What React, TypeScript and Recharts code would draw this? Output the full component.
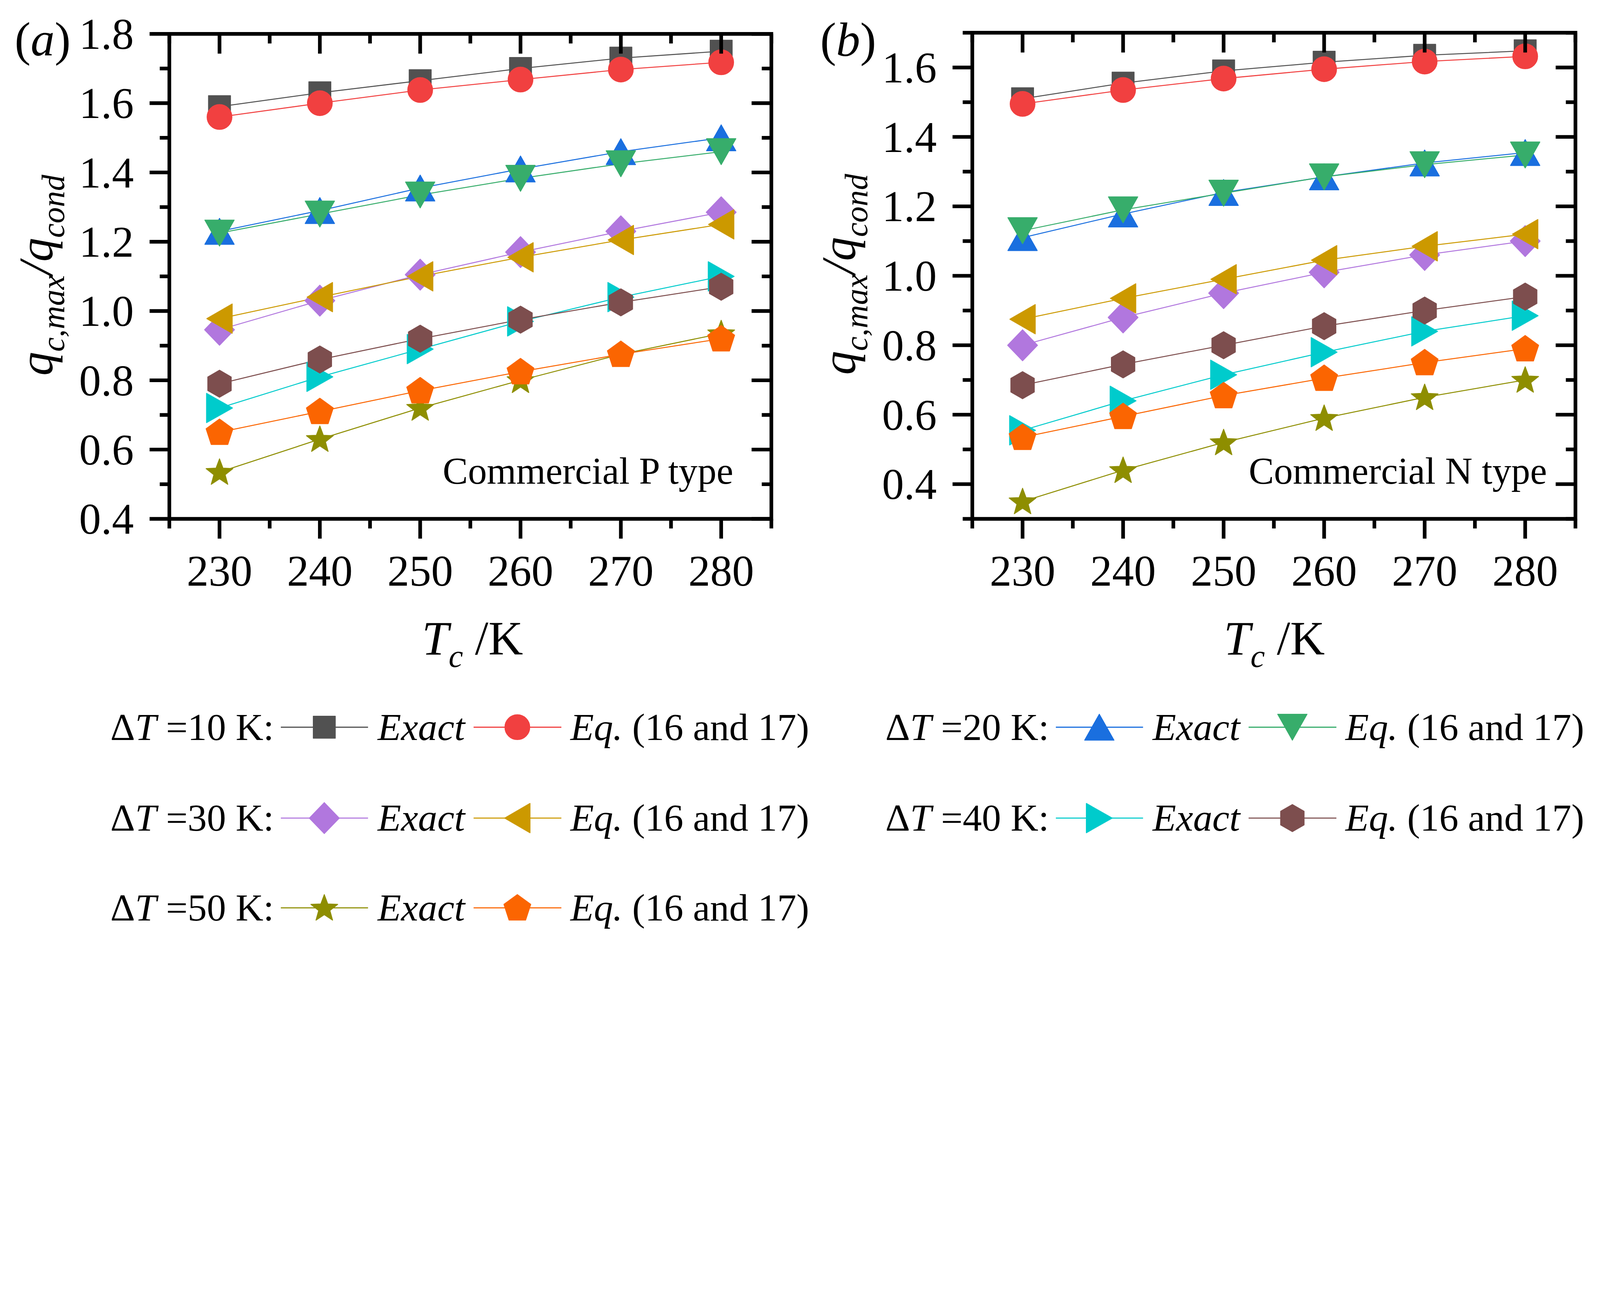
import React from 'react';
import { LineChart, Line, XAxis, YAxis, ReferenceArea } from 'recharts';

const FONT = "'Liberation Serif', 'Times New Roman', Times, serif";

// x categories (Tc / K) and axis ticks
const TC = [230, 240, 250, 260, 270, 280];
const X_TICKS = [225, 230, 235, 240, 245, 250, 255, 260, 265, 270, 275, 280, 285];
const Y_TICKS_P = [0.4, 0.5, 0.6, 0.7, 0.8, 0.9, 1.0, 1.1, 1.2, 1.3, 1.4, 1.5, 1.6, 1.7, 1.8];
const Y_TICKS_N = [0.3, 0.4, 0.5, 0.6, 0.7, 0.8, 0.9, 1.0, 1.1, 1.2, 1.3, 1.4, 1.5, 1.6, 1.7];

// (a) commercial P type
const P_EXACT_10 = [1.59, 1.63, 1.665, 1.7, 1.73, 1.75];
const P_EQ_10 = [1.56, 1.6, 1.638, 1.668, 1.697, 1.718];
const P_EXACT_20 = [1.23, 1.29, 1.355, 1.41, 1.46, 1.5];
const P_EQ_20 = [1.225, 1.28, 1.335, 1.383, 1.425, 1.46];
const P_EXACT_30 = [0.946, 1.03, 1.105, 1.17, 1.23, 1.285];
const P_EQ_30 = [0.978, 1.04, 1.1, 1.155, 1.205, 1.25];
const P_EXACT_40 = [0.72, 0.81, 0.89, 0.97, 1.04, 1.1];
const P_EQ_40 = [0.79, 0.86, 0.92, 0.975, 1.025, 1.07];
const P_EXACT_50 = [0.535, 0.63, 0.72, 0.8, 0.875, 0.935];
const P_EQ_50 = [0.65, 0.71, 0.77, 0.825, 0.875, 0.92];

// (b) commercial N type
const N_EXACT_10 = [1.51, 1.555, 1.59, 1.615, 1.635, 1.648];
const N_EQ_10 = [1.495, 1.535, 1.568, 1.595, 1.617, 1.632];
const N_EXACT_20 = [1.11, 1.178, 1.24, 1.285, 1.325, 1.355];
const N_EQ_20 = [1.13, 1.19, 1.238, 1.285, 1.32, 1.348];
const N_EXACT_30 = [0.8, 0.88, 0.95, 1.01, 1.06, 1.1];
const N_EQ_30 = [0.875, 0.935, 0.99, 1.045, 1.085, 1.12];
const N_EXACT_40 = [0.555, 0.64, 0.715, 0.78, 0.84, 0.885];
const N_EQ_40 = [0.685, 0.745, 0.8, 0.855, 0.9, 0.94];
const N_EXACT_50 = [0.35, 0.44, 0.52, 0.59, 0.65, 0.7];
const N_EQ_50 = [0.535, 0.595, 0.655, 0.705, 0.75, 0.79];

const SERIES = [
  { key: 'e10', dt: 10, color: '#515151', shape: 'square' },
  { key: 'q10', dt: 10, color: '#F14040', shape: 'circle' },
  { key: 'e20', dt: 20, color: '#1A6FDF', shape: 'up' },
  { key: 'q20', dt: 20, color: '#37AD6B', shape: 'down' },
  { key: 'e30', dt: 30, color: '#B177DE', shape: 'diamond' },
  { key: 'q30', dt: 30, color: '#CC9900', shape: 'left' },
  { key: 'e40', dt: 40, color: '#00CBCC', shape: 'right' },
  { key: 'q40', dt: 40, color: '#7D4E4E', shape: 'hexagon' },
  { key: 'e50', dt: 50, color: '#8E8E00', shape: 'star' },
  { key: 'q50', dt: 50, color: '#FB6501', shape: 'pentagon' },
];

function buildRows(cols: Record<string, number[]>) {
  return TC.map((tc, i) => {
    const row: Record<string, number> = { tc };
    Object.keys(cols).forEach((k) => (row[k] = cols[k][i]));
    return row;
  });
}

const P_ROWS = buildRows({
  e10: P_EXACT_10, q10: P_EQ_10, e20: P_EXACT_20, q20: P_EQ_20, e30: P_EXACT_30,
  q30: P_EQ_30, e40: P_EXACT_40, q40: P_EQ_40, e50: P_EXACT_50, q50: P_EQ_50,
});
const N_ROWS = buildRows({
  e10: N_EXACT_10, q10: N_EQ_10, e20: N_EXACT_20, q20: N_EQ_20, e30: N_EXACT_30,
  q30: N_EQ_30, e40: N_EXACT_40, q40: N_EQ_40, e50: N_EXACT_50, q50: N_EQ_50,
});

function polygon(cx: number, cy: number, n: number, rOut: number, rIn?: number) {
  const pts: string[] = [];
  const count = rIn ? n * 2 : n;
  for (let i = 0; i < count; i++) {
    const a = (-90 + (i * 360) / count) * (Math.PI / 180);
    const r = rIn && i % 2 === 1 ? rIn : rOut;
    pts.push(`${cx + r * Math.cos(a)},${cy + r * Math.sin(a)}`);
  }
  return pts.join(' ');
}

function Marker({ shape, cx, cy, color }: { shape: string; cx: number; cy: number; color: string }) {
  const st = { fill: color, stroke: color, strokeWidth: 3, strokeLinejoin: 'round' as const };
  switch (shape) {
    case 'square':
      return <rect x={cx - 39} y={cy - 39} width={78} height={78} {...st} />;
    case 'circle':
      return <circle cx={cx} cy={cy} r={44} {...st} />;
    case 'up':
      return <polygon points={`${cx},${cy - 46} ${cx + 52},${cy + 46} ${cx - 52},${cy + 46}`} {...st} />;
    case 'down':
      return <polygon points={`${cx},${cy + 46} ${cx + 52},${cy - 46} ${cx - 52},${cy - 46}`} {...st} />;
    case 'diamond':
      return <polygon points={`${cx},${cy - 55} ${cx + 53},${cy} ${cx},${cy + 55} ${cx - 53},${cy}`} {...st} />;
    case 'left':
      return <polygon points={`${cx - 45},${cy} ${cx + 45},${cy - 52} ${cx + 45},${cy + 52}`} {...st} />;
    case 'right':
      return <polygon points={`${cx + 46},${cy} ${cx - 46},${cy - 52} ${cx - 46},${cy + 52}`} {...st} />;
    case 'hexagon':
      return <polygon points={polygon(cx, cy, 6, 48)} {...st} />;
    case 'star':
      return <polygon points={polygon(cx, cy + 3, 5, 50, 21)} {...st} />;
    case 'pentagon':
      return <polygon points={polygon(cx, cy + 3, 5, 50)} {...st} />;
    default:
      return null;
  }
}

const isMajorX = (v: number) => Math.round(v) % 10 === 0;
const isMajorY = (v: number) => Math.round(v * 10) % 2 === 0;

function XTick(props: any) {
  const { x, y, payload, plotTop } = props;
  const v = payload.value;
  const major = isMajorX(v);
  const len = major ? 70 : 34;
  return (
    <g>
      <line x1={x} x2={x} y1={y} y2={y + len} stroke="#000" strokeWidth={13} />
      <line x1={x} x2={x} y1={plotTop} y2={plotTop + len} stroke="#000" strokeWidth={13} />
      {major && (
        <text x={x} y={y + 237} textAnchor="middle" fontSize={155} fontFamily={FONT} fill="#000">
          {v}
        </text>
      )}
    </g>
  );
}

function YTick(props: any) {
  const { x, y, payload, plotRight } = props;
  const v = payload.value;
  const major = isMajorY(v);
  const len = major ? 70 : 34;
  return (
    <g>
      <line x1={x} x2={x - len} y1={y} y2={y} stroke="#000" strokeWidth={13} />
      <line x1={plotRight} x2={plotRight - len} y1={y} y2={y} stroke="#000" strokeWidth={13} />
      {major && (
        <text x={x - 126} y={y + 53} textAnchor="end" fontSize={155} fontFamily={FONT} fill="#000">
          {v.toFixed(1)}
        </text>
      )}
    </g>
  );
}

function Panel({ left, rows, yDomain, yTicks, marginTop, marginRight }: any) {
  const width = 2800;
  const height = 2200;
  const plotBottom = 1838;
  const plotTop = marginTop;
  const plotRight = width - marginRight;
  return (
    <div style={{ position: 'absolute', left, top: 0, width, height }}>
      <LineChart width={width} height={height} data={rows} margin={{ top: marginTop, right: marginRight, bottom: 0, left: 0 }}>
        <ReferenceArea x1={225} x2={285} y1={yDomain[0]} y2={yDomain[1]} fill="none" fillOpacity={0} stroke="#000" strokeWidth={13} />
        <XAxis
          dataKey="tc"
          type="number"
          domain={[225, 285]}
          ticks={X_TICKS}
          interval={0}
          allowDataOverflow
          height={height - plotBottom}
          axisLine={false}
          tickLine={false}
          tickSize={0}
          tickMargin={0}
          tick={(p: any) => <XTick {...p} plotTop={plotTop} />}
        />
        <YAxis
          type="number"
          domain={yDomain}
          ticks={yTicks}
          interval={0}
          allowDataOverflow
          width={600}
          axisLine={false}
          tickLine={false}
          tickSize={0}
          tickMargin={0}
          tick={(p: any) => <YTick {...p} plotRight={plotRight} />}
        />
        {SERIES.map((s) => (
          <Line
            key={s.key}
            dataKey={s.key}
            type="linear"
            stroke={s.color}
            strokeWidth={3.5}
            isAnimationActive={false}
            activeDot={false}
            dot={(p: any) =>
              p.cx == null ? <g key={`${s.key}-${p.index}`} /> : <Marker key={`${s.key}-${p.index}`} shape={s.shape} cx={p.cx} cy={p.cy} color={s.color} />
            }
          />
        ))}
      </LineChart>
    </div>
  );
}

const LEGEND_COL_X = [391, 3137];
const LEGEND_ROW_Y = [2576, 2898, 3216];
const LEGEND_PLACE = [
  { dt: 10, col: 0, row: 0 },
  { dt: 20, col: 1, row: 0 },
  { dt: 30, col: 0, row: 1 },
  { dt: 40, col: 1, row: 1 },
  { dt: 50, col: 0, row: 2 },
];

function YTitle({ x, y }: { x: number; y: number }) {
  return (
    <text transform={`translate(${x},${y}) rotate(-90)`} textAnchor="middle" fontFamily={FONT} fontStyle="italic" fill="#000">
      <tspan fontSize={170}>q</tspan>
      <tspan fontSize={115} dy={42}>c,max</tspan>
      <tspan fontSize={170} dy={-42}>/q</tspan>
      <tspan fontSize={115} dy={42}>cond</tspan>
    </text>
  );
}

function XTitle({ x, y }: { x: number; y: number }) {
  return (
    <text x={x} y={y} textAnchor="middle" fontFamily={FONT} fill="#000">
      <tspan fontSize={170} fontStyle="italic">T</tspan>
      <tspan fontSize={115} fontStyle="italic" dy={44}>c</tspan>
      <tspan fontSize={170} dy={-44}> /K</tspan>
    </text>
  );
}

function Overlay() {
  return (
    <svg width={5669} height={3358} style={{ position: 'absolute', left: 0, top: 0, pointerEvents: 'none' }}>
      <text x={52} y={196} fontSize={170} fontFamily={FONT} fill="#000">
        (<tspan fontStyle="italic">a</tspan>)
      </text>
      <text x={2906} y={198} fontSize={170} fontFamily={FONT} fill="#000">
        (<tspan fontStyle="italic">b</tspan>)
      </text>
      <YTitle x={185} y={975} />
      <YTitle x={3030} y={972} />
      <XTitle x={1674} y={2318} />
      <XTitle x={4515} y={2318} />
      <text x={2598} y={1714} textAnchor="end" fontSize={134} fontFamily={FONT} fill="#000">
        Commercial P type
      </text>
      <text x={5481} y={1713} textAnchor="end" fontSize={134} fontFamily={FONT} fill="#000">
        Commercial N type
      </text>
      {LEGEND_PLACE.map((lp) => {
        const x0 = LEGEND_COL_X[lp.col];
        const ly = LEGEND_ROW_Y[lp.row];
        const [exact, eq] = SERIES.filter((s) => s.dt === lp.dt);
        return (
          <g key={lp.dt}>
            <text x={x0} y={ly + 45} fontSize={136} fontFamily={FONT} fill="#000">
              Δ<tspan fontStyle="italic">T</tspan> ={lp.dt} K:
            </text>
            <line x1={x0 + 604} x2={x0 + 913} y1={ly} y2={ly} stroke={exact.color} strokeWidth={4} />
            <Marker shape={exact.shape} cx={x0 + 758} cy={ly} color={exact.color} />
            <text x={x0 + 947} y={ly + 45} fontSize={136} fontFamily={FONT} fontStyle="italic" fill="#000">
              Exact
            </text>
            <line x1={x0 + 1287} x2={x0 + 1598} y1={ly} y2={ly} stroke={eq.color} strokeWidth={4} />
            <Marker shape={eq.shape} cx={x0 + 1442} cy={ly} color={eq.color} />
            <text x={x0 + 1630} y={ly + 45} fontSize={136} fontFamily={FONT} fill="#000">
              <tspan fontStyle="italic">Eq.</tspan> (16 and 17)
            </text>
          </g>
        );
      })}
    </svg>
  );
}

export default function App() {
  // the figure is laid out at 5669x3358; shrink it if the window is narrower
  const vw = typeof window !== 'undefined' ? window.innerWidth : 5669;
  const vh = typeof window !== 'undefined' ? window.innerHeight : 3358;
  const s = Math.min(1, vw / 5669, vh / 3358);
  return (
    <div style={{ position: 'absolute', left: 0, top: 0, width: 5669, height: 3358, background: '#fff', fontFamily: FONT, transform: `scale(${s})`, transformOrigin: '0 0' }}>
      <Panel left={0} rows={P_ROWS} yDomain={[0.4, 1.8]} yTicks={Y_TICKS_P} marginTop={120} marginRight={67} />
      <Panel left={2845} rows={N_ROWS} yDomain={[0.3, 1.7]} yTicks={Y_TICKS_N} marginTop={116} marginRight={63} />
      <Overlay />
    </div>
  );
}
